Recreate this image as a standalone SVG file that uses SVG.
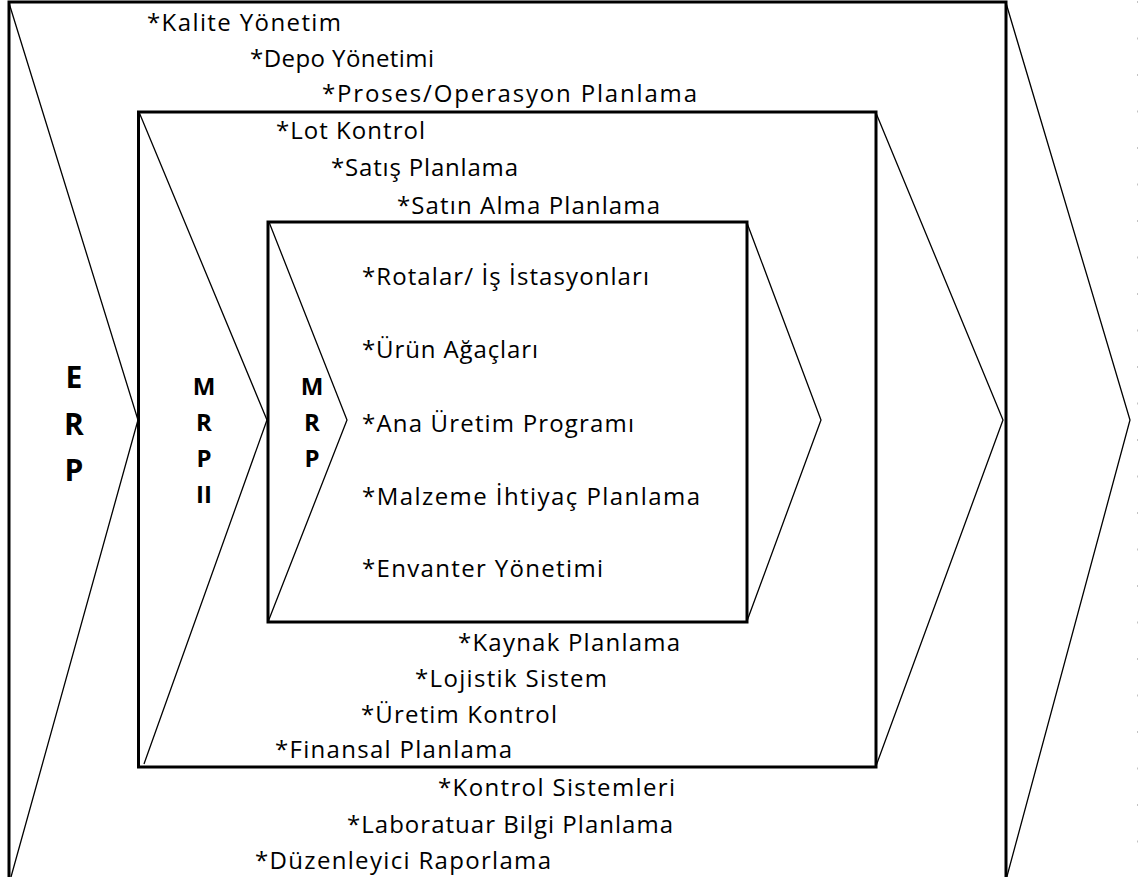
<svg xmlns="http://www.w3.org/2000/svg" width="1145" height="877" viewBox="0 0 1145 877">
  <style>
    .frame { fill: none; stroke: #000; stroke-width: 3; }
    .chev { fill: none; stroke: #000; stroke-width: 1.3; stroke-linejoin: miter; }
    .item { font-family: "Open Sans", "Noto Sans", sans-serif; font-size: 24px; fill: #000; font-variant-ligatures: none; }
    .tag { font-family: "Open Sans", "Noto Sans", sans-serif; font-weight: 700; fill: #000; text-anchor: middle; }
    .tag-l { font-size: 30px; }
    .tag-s { font-size: 24px; }
    .guide { stroke: #c4c4c4; stroke-width: 1; stroke-dasharray: 2 34.5; }
  </style>
  <rect width="1145" height="877" fill="#fff"/>

  <!-- faint page guide on the right -->
  <line class="guide" x1="1137.5" y1="1" x2="1137.5" y2="877"/>

  <!-- ERP: outermost chevron -->
  <g id="erp">
    <rect class="frame" x="9" y="2" width="997" height="900"/>
    <polyline class="chev" points="9,3 138,420 11,877"/>
    <polyline class="chev" points="1006,3 1130,420 1006,880"/>
    <text class="tag tag-l" x="74" y="388">E</text>
    <text class="tag tag-l" x="74" y="435">R</text>
    <text class="tag tag-l" x="74" y="481">P</text>
    <text class="item" x="147" y="31" textLength="194" lengthAdjust="spacing">*Kalite Yönetim</text>
    <text class="item" x="250" y="67" textLength="184" lengthAdjust="spacing">*Depo Yönetimi</text>
    <text class="item" x="322" y="102" textLength="375" lengthAdjust="spacing">*Proses/Operasyon Planlama</text>
    <text class="item" x="438" y="796" textLength="237" lengthAdjust="spacing">*Kontrol Sistemleri</text>
    <text class="item" x="347" y="833" textLength="326" lengthAdjust="spacing">*Laboratuar Bilgi Planlama</text>
    <text class="item" x="255" y="869" textLength="296" lengthAdjust="spacing">*Düzenleyici Raporlama</text>
  </g>

  <!-- MRP II: middle chevron -->
  <g id="mrp2">
    <rect class="frame" x="138.5" y="112" width="737.5" height="655"/>
    <polyline class="chev" points="139,112 267,420 144,764"/>
    <polyline class="chev" points="876,113 1003,420 876,766"/>
    <text class="tag tag-s" x="204" y="395">M</text>
    <text class="tag tag-s" x="204" y="431">R</text>
    <text class="tag tag-s" x="204" y="467">P</text>
    <text class="tag tag-s" x="204" y="503">II</text>
    <text class="item" x="276" y="139" textLength="149" lengthAdjust="spacing">*Lot Kontrol</text>
    <text class="item" x="331" y="176" textLength="187" lengthAdjust="spacing">*Satış Planlama</text>
    <text class="item" x="397" y="214" textLength="263" lengthAdjust="spacing">*Satın Alma Planlama</text>
    <text class="item" x="458" y="651" textLength="222" lengthAdjust="spacing">*Kaynak Planlama</text>
    <text class="item" x="415" y="687" textLength="192" lengthAdjust="spacing">*Lojistik Sistem</text>
    <text class="item" x="361" y="723" textLength="196" lengthAdjust="spacing">*Üretim Kontrol</text>
    <text class="item" x="275" y="758" textLength="237" lengthAdjust="spacing">*Finansal Planlama</text>
  </g>

  <!-- MRP: innermost chevron -->
  <g id="mrp">
    <rect class="frame" x="268" y="222" width="479" height="400"/>
    <polyline class="chev" points="269,222 347,420 268,622"/>
    <polyline class="chev" points="747,223 821,420 747,621"/>
    <text class="tag tag-s" x="312" y="395">M</text>
    <text class="tag tag-s" x="312" y="431">R</text>
    <text class="tag tag-s" x="312" y="467">P</text>
    <text class="item" x="362" y="285" textLength="287" lengthAdjust="spacing">*Rotalar/ İş İstasyonları</text>
    <text class="item" x="362" y="358" textLength="176" lengthAdjust="spacing">*Ürün Ağaçları</text>
    <text class="item" x="362" y="432" textLength="272" lengthAdjust="spacing">*Ana Üretim Programı</text>
    <text class="item" x="362" y="505" textLength="338" lengthAdjust="spacing">*Malzeme İhtiyaç Planlama</text>
    <text class="item" x="362" y="577" textLength="241" lengthAdjust="spacing">*Envanter Yönetimi</text>
  </g>
</svg>
